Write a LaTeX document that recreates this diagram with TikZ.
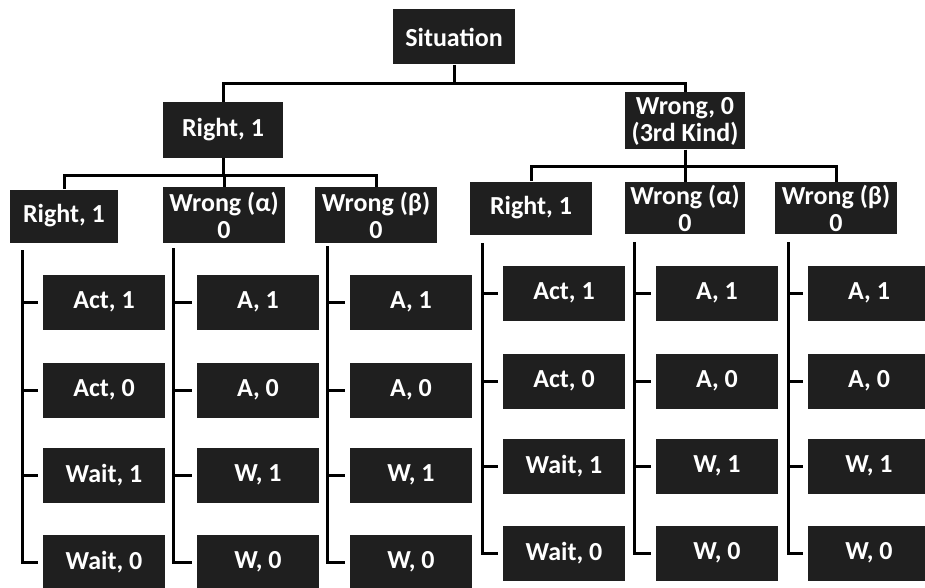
\documentclass[tikz,border=0pt]{standalone}
\usepackage{fontspec}
\setmainfont{Carlito}
\begin{document}
\begin{tikzpicture}[x=1pt,y=-1pt,
  box/.style={fill=black!88,text=white,font=\fontsize{26}{27}\selectfont\bfseries,
    inner sep=0pt,align=center,minimum width=122pt,minimum height=55pt},
  conn/.style={line width=3pt,draw=black},
  tick/.style={conn,shorten >=5pt}]
\useasboundingbox (0,0) rectangle (925,588);
% level 0 and 1
\node[box] (sit) at (454,37) {Situation};
\node[box,minimum width=120pt,minimum height=56pt] (r1) at (223,130) {Right, 1};
\node[box,minimum width=120pt,minimum height=57pt] (w0) at (685,121) {Wrong, 0\\(3rd Kind)};
% level 2 left
\node[box,minimum width=108pt,minimum height=53pt] (la) at (64,216) {Right, 1};
\node[box,minimum height=56pt] (lb) at (224,215) {Wrong (α)\\0};
\node[box,minimum height=56pt] (lc) at (376,215) {Wrong (β)\\0};
% level 2 right
\node[box,minimum height=53pt] (rd) at (531,208) {Right, 1};
\node[box,minimum width=120pt,minimum height=52pt] (re) at (685,208) {Wrong (α)\\0};
\node[box,minimum height=52pt] (rf) at (836,208) {Wrong (β)\\0};
% leaves
\node[box] (a1) at (104,302) {Act, 1};
\node[box] (a2) at (104,390) {Act, 0};
\node[box] (a3) at (104,475) {Wait, 1};
\node[box] (a4) at (104,562) {Wait, 0};
\node[box] (b1) at (258,302) {A, 1};
\node[box] (b2) at (258,390) {A, 0};
\node[box] (b3) at (258,475) {W, 1};
\node[box] (b4) at (258,562) {W, 0};
\node[box] (c1) at (411,302) {A, 1};
\node[box] (c2) at (411,390) {A, 0};
\node[box] (c3) at (411,475) {W, 1};
\node[box] (c4) at (411,562) {W, 0};
\node[box] (d1) at (564,293) {Act, 1};
\node[box] (d2) at (564,381) {Act, 0};
\node[box] (d3) at (564,466) {Wait, 1};
\node[box] (d4) at (564,553) {Wait, 0};
\node[box] (e1) at (717,293) {A, 1};
\node[box] (e2) at (717,381) {A, 0};
\node[box] (e3) at (717,466) {W, 1};
\node[box] (e4) at (717,553) {W, 0};
\node[box] (f1) at (869,293) {A, 1};
\node[box] (f2) at (869,381) {A, 0};
\node[box] (f3) at (869,466) {W, 1};
\node[box] (f4) at (869,553) {W, 0};
% tree connectors
\coordinate (h0) at (454,84);
\draw[conn] (sit.south) -- (h0);
\draw[conn] (h0) -| (r1.north);
\draw[conn] (h0) -| (w0.north);
\coordinate (h1) at (223,175);
\draw[conn] (r1.south) -- (h1);
\draw[conn] (h1) -| (la.north);
\draw[conn] (h1) -| (lb.north);
\draw[conn] (h1) -| (lc.north);
\coordinate (h2) at (685,167);
\draw[conn] (w0.south) -- (h2);
\draw[conn] (h2) -| (rd.north);
\draw[conn] (h2) -| (re.north);
\draw[conn] (h2) -| (rf.north);
% column connectors
\coordinate (ta) at (22,250);
\coordinate (tb) at (173,248);
\coordinate (tc) at (327,246);
\coordinate (td) at (482,243);
\coordinate (te) at (634,242);
\coordinate (tf) at (788,242);
\foreach \c in {a,b,c,d,e,f}{
  \foreach \i in {1,2,3,4}{
    \draw[tick] (t\c) |- (\c\i.west);
  }
}
\end{tikzpicture}
\end{document}
